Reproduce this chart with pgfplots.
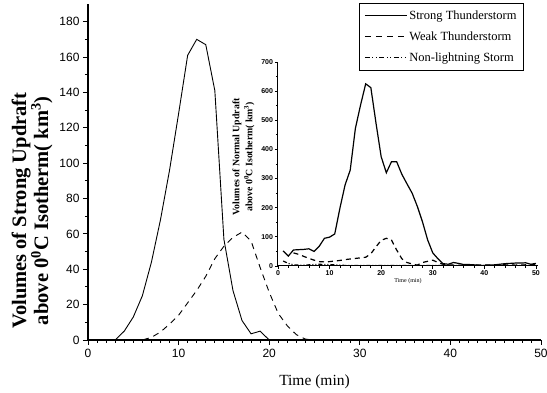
\documentclass[border=0pt]{standalone}
\usepackage{pgfplots}
\pgfplotsset{compat=1.18}
\usepackage{fontspec}
\setmainfont{Liberation Serif}
\newfontfamily\arial{Liberation Sans}
\begin{document}
\begin{tikzpicture}
\path[use as bounding box] (-88pt,-53pt) rectangle (459pt,340pt);
\begin{axis}[
  at={(0pt,0pt)}, anchor=south west,
  scale only axis, width=453pt, height=336pt,
  xmin=0, xmax=50, ymin=0, ymax=190,
  axis x line*=bottom, axis y line*=left,
  axis line style={line width=1.1pt},
  xtick={0,10,...,50}, ytick={0,20,...,180},
  minor x tick num=9, minor y tick num=1,
  tick align=outside,
  major tick length=5pt, minor tick length=3pt,
  every tick/.style={line width=0.9pt,black},
  /pgf/number format/assume math mode=true,
  tick label style={font=\arial\fontsize{12}{13}\selectfont},
  xticklabel style={yshift=-1pt},
  xlabel={Time (min)},
  xlabel style={font=\fontsize{15.5}{18}\selectfont, yshift=-10pt},
  ylabel={Volumes of Strong Updraft\\above 0\textsuperscript{0}C Isotherm(\ km\textsuperscript{3})},
  ylabel style={at={(ticklabel cs:0.385)}, font=\bfseries\fontsize{20.5}{22}\selectfont, align=center},
  legend cell align=left,
  legend style={at={(0.9625,1.003)}, anchor=north east, draw=black, line width=0.8pt,
    font=\fontsize{12.5}{14}\selectfont, row sep=7pt, inner xsep=5pt, inner ysep=5pt},
  legend image code/.code={\draw[#1] (0pt,0pt) -- (42pt,0pt);},
]
\addplot[black, line width=0.9pt] coordinates {
(0,0)(1,0)(2,0)(3,0)(4,5)(5,13)(6,25)(7,44)(8,68)(9,96)(10,128)(11,161)(12,170)(13,167)(14,141)(15,57)(16,28)(17,11)(18,3.5)(19,5)(20,0)(25,0)(30,0)(35,0)(40,0)(45,0)(50,0)};
\addlegendentry{Strong Thunderstorm}
\addplot[black, line width=0.9pt, dash pattern=on 6pt off 5pt] coordinates {
(0,0)(3,0)(6,0)(7,1.5)(8,4.5)(9,9)(10,14)(11,21)(12,28)(13,36)(14,46)(15,53)(16,58)(17,61)(18,56)(19,41)(20,27)(21,15)(22,8)(23,3)(24,0.5)(25,0)(30,0)(35,0)(40,0)(45,0)(50,0)};
\addlegendentry{Weak Thunderstorm}
\addlegendimage{black, line width=0.9pt, dash pattern=on 5pt off 2.5pt on 1pt off 2.5pt on 1pt off 2.5pt}
\addlegendentry{Non-lightning Storm}
\end{axis}
\begin{axis}[
  at={(190pt,74pt)}, anchor=south west,
  scale only axis, width=260pt, height=204pt,
  xmin=0, xmax=50.4, ymin=0, ymax=700,
  axis x line*=bottom, axis y line*=left,
  axis line style={line width=1pt},
  xtick={0,10,...,50}, ytick={0,100,...,700},
  minor x tick num=4, minor y tick num=1,
  tick align=outside,
  major tick length=3pt, minor tick length=2pt,
  every tick/.style={line width=0.8pt,black},
  /pgf/number format/assume math mode=true,
  tick label style={font=\arial\bfseries\fontsize{7}{8}\selectfont},
  xticklabel style={yshift=1.5pt},
  yticklabel style={xshift=1.5pt},
  xlabel={Time (min)},
  xlabel style={font=\fontsize{6}{7}\selectfont, yshift=5pt},
  ylabel={Volumes of Normal Updraft\\above 0\textsuperscript{0}C Isotherm(\ km\textsuperscript{3})},
  ylabel style={at={(ticklabel cs:0.535)}, font=\bfseries\fontsize{9.8}{13}\selectfont, align=center},
]
\addplot[black, line width=1.2pt] coordinates {
(1,52)(2,34)(3,55)(4,56)(5,57)(6,59)(7,50)(8,68)(9,95)(10,99)(11,110)(12,198)(13,278)(14,329)(15,472)(16,552)(17,625)(18,612)(19,490)(20,375)(21,320)(22,358)(23,358)(24,315)(25,282)(26,250)(27,205)(28,152)(29,90)(30,45)(31,25)(32,8)(33,6)(34,12)(35,9)(36,5)(37,5)(38,4)(39,2)(40,2)(41,3)(42,4)(43,6)(44,8)(45,9)(46,10)(47,10)(48,11)(49,6)(50,9)};
\addplot[black, line width=1.2pt, dash pattern=on 5pt off 4pt] coordinates {
(3,45)(4,40)(5,33)(6,26)(7,20)(8,15)(9,14)(10,15)(11,17)(12,19)(13,22)(14,24)(15,26)(16,28)(17,30)(18,42)(19,66)(20,88)(21,95)(22,89)(23,55)(24,25)(25,12)(26,7)(27,3)(28,12)(29,16)(30,20)(31,12)(32,6)(33,4)(34,3)(36,3)(38,4)(40,3)(42,4)(44,4)(46,3)(48,4)(50,4)};
\addplot[black, line width=1.2pt, dash pattern=on 4pt off 2pt on 1pt off 2pt on 1pt off 2pt] coordinates {
(1,17)(2,9)(3,4)(4,3)(5,3)(6,4)(7,5)(8,6)(9,5)(10,5)(11,4)(12,3)(13,2)(14,2)(16,2)(18,2)(20,2)(22,2)(24,2)(26,2)(28,2)(30,2)(32,2)(34,2)(36,2)(38,2)(40,2)(42,2)(44,2)(46,2)(48,2)(50,2)};
\end{axis}
\end{tikzpicture}
\end{document}
